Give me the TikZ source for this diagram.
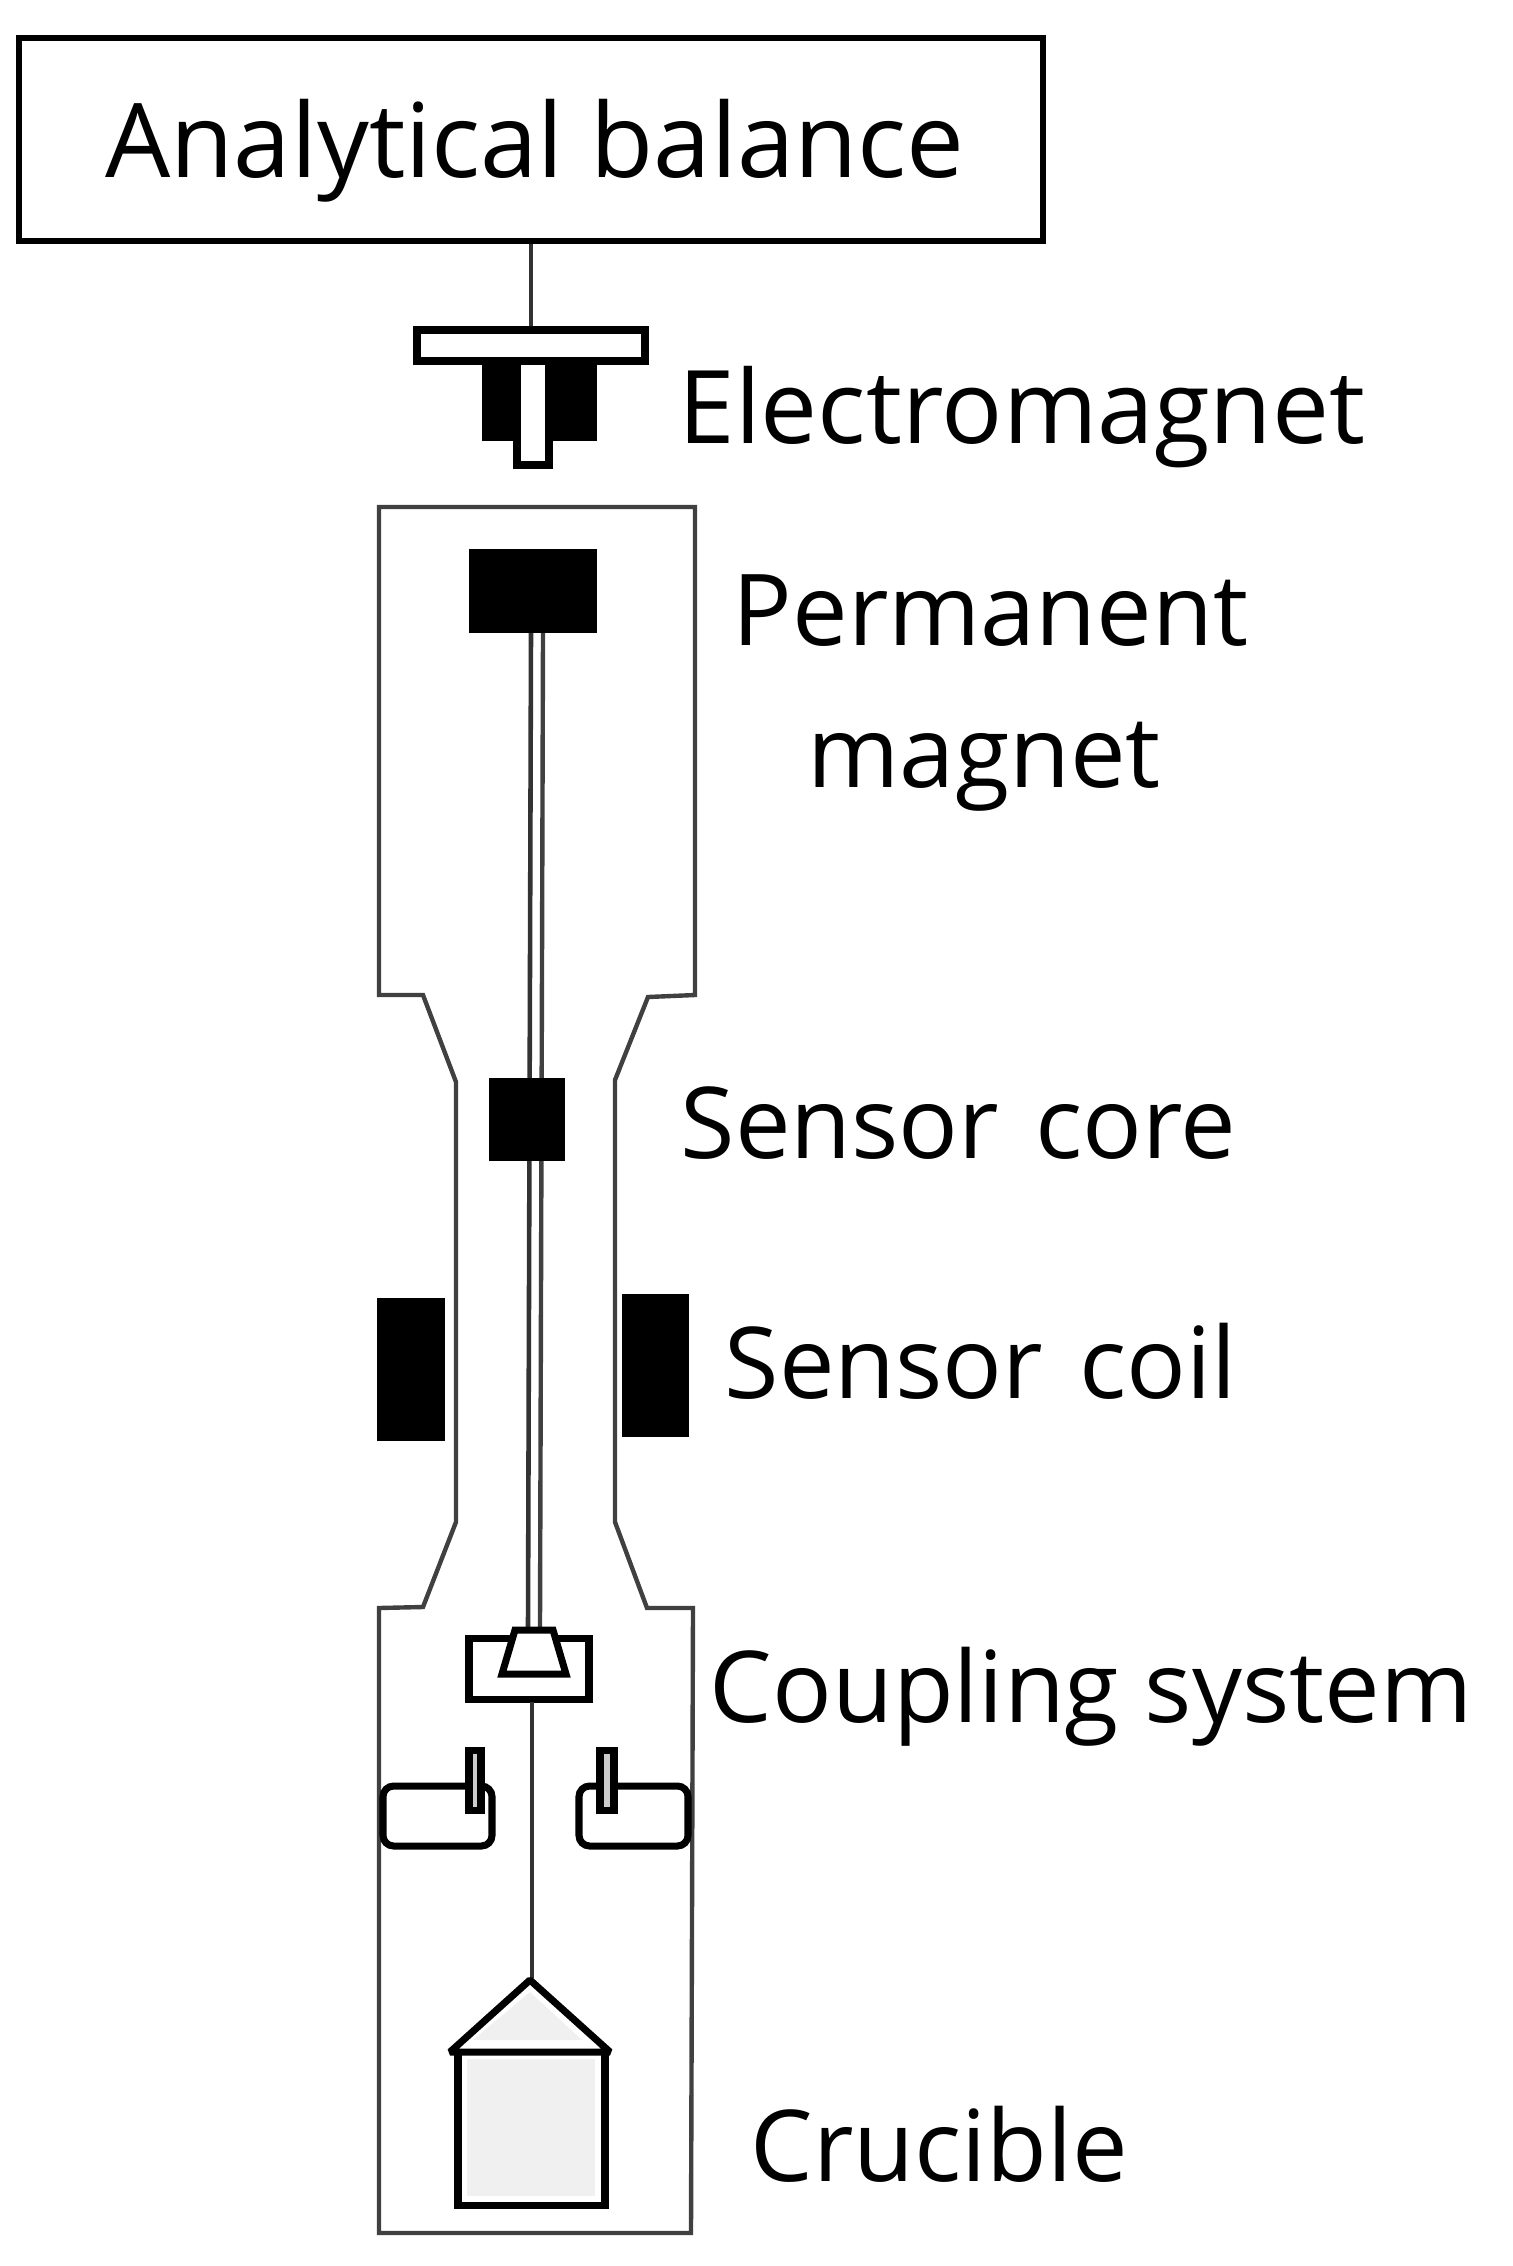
\documentclass[tikz,border=0pt]{standalone}
\usepackage{fontspec}
\setmainfont{Open Sans}
\tikzset{
  wall/.style={line width=1.25pt, black!75},
  thread/.style={line width=1.3pt, black!80},
  part/.style={line width=2pt, draw=black, fill=white},
  solid block/.style={fill=black},
  caption/.style={anchor=base west, inner sep=0pt, font=\fontsize{28.2}{34}\selectfont},
}
\begin{document}
\begin{tikzpicture}[x=0.01cm, y=-0.01cm]
\useasboundingbox (0,0) rectangle (1513,2266);
% balance and electromagnet
\node[draw, line width=1.7pt, minimum width=10.24cm, minimum height=2.03cm, inner sep=0pt] (balance) at (531,139.5) {};
\node[anchor=base, inner sep=0pt, font=\fontsize{29.3}{36}\selectfont] (balancetext) at (535,177) {Analytical balance};
\coordinate (plate top) at (531,330);
\draw[thread] (balance.south -| plate top) -- (plate top);
\fill[solid block] (482,361) rectangle (597,441);
\draw[part] (517,361) rectangle (549,465);
\draw[part] (417,330) rectangle (645,361);
% glass tube
\draw[wall] (379,507) -- (379,995) -- (423,995) -- (456,1082) -- (456,1522) -- (423,1607) -- (379,1608) -- (379,2233)
  -- (691,2233) -- (693,1608) -- (647,1608) -- (615,1522) -- (615,1080) -- (648,997) -- (695,995) -- (695,507) -- cycle;
% rod with magnet and core
\draw[thread] (531,633) -- (528,1627);
\draw[wall] (543,633) -- (540,1627);
\fill[solid block] (469,549) rectangle (597,633);
\fill[solid block] (489,1078) rectangle (565,1161);
\fill[solid block] (377,1298) rectangle (445,1441);
\fill[solid block] (622,1294) rectangle (689,1437);
% coupling
\draw[part] (469,1638) rectangle (589,1699);
\draw[part] (515,1630) -- (553,1630) -- (566,1674) -- (502,1674) -- cycle;
\draw[thread] (532,1702) -- (532,1978);
\draw[part, rounded corners=3pt] (383,1786) rectangle (492,1846);
\draw[part, rounded corners=3pt] (579,1786) rectangle (688,1846);
\draw[part, fill=black!20] (469,1750) rectangle (481,1810);
\draw[part, fill=black!20] (600,1750) rectangle (614,1810);
% crucible
\draw[line width=2pt, line join=bevel] (450,2052) -- (530,1980) -- (610,2052) -- cycle;
\fill[black!6] (530,1992) -- (582,2040) -- (473,2040) -- cycle;
\draw[line width=2pt] (458,2052) -- (458,2205) -- (605,2205) -- (605,2052);
\fill[black!6] (467,2059) rectangle (595,2196);
% labels
\node[caption, font=\fontsize{28.9}{34}\selectfont] (electromagnet) at (678,443) {Electromagnet};
\node[caption] (permanent) at (732,645) {Permanent};
\node[caption] (magnet) at (807,787) {magnet};
\node[caption] (core) at (680,1158) {Sensor\hspace{0.1cm} core};
\node[caption] (coil) at (724,1398) {Sensor\hspace{0.1cm} coil};
\node[caption] (coupling) at (709,1722) {Coupling system};
\node[caption] (crucible) at (750,2181) {Crucible};
\end{tikzpicture}
\end{document}
